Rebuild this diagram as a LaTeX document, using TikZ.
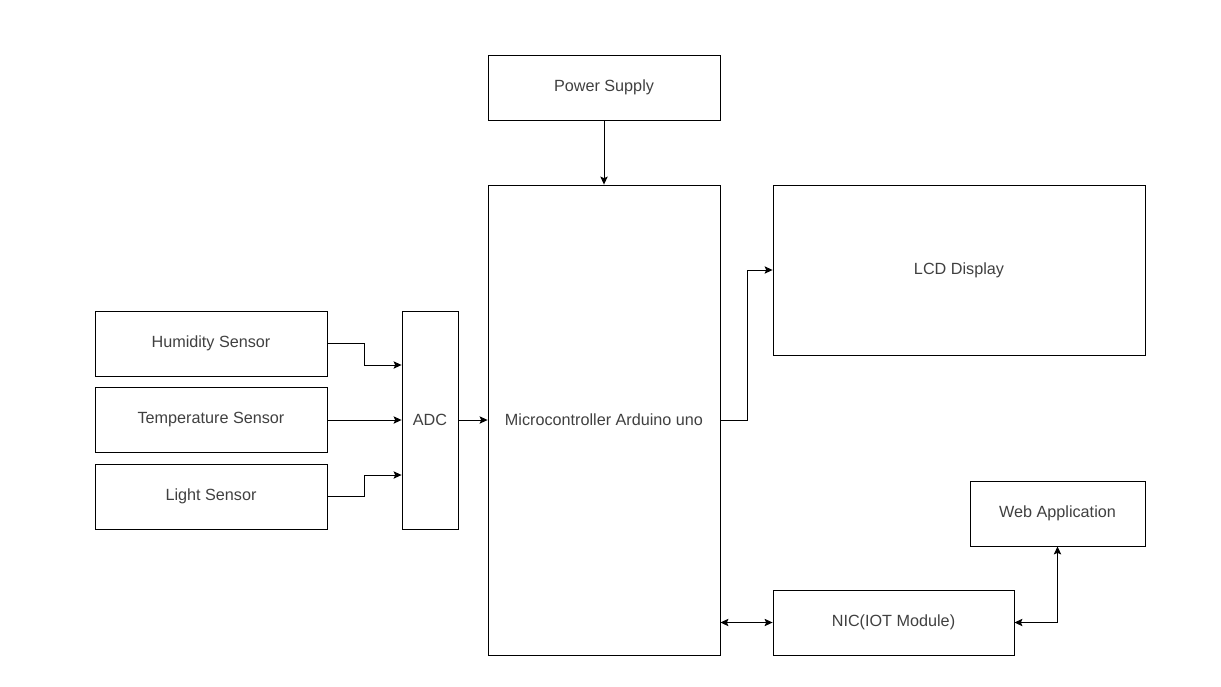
\documentclass[tikz,border=0pt]{standalone}
\usepackage{fontspec}
\setmainfont{Liberation Sans}
\usepackage{tikz}
\usetikzlibrary{positioning, arrows.meta}

\begin{document}
\begin{tikzpicture}[x = 0.75pt, y = -0.75pt, >={Stealth[length = 6pt, width = 5.5pt, inset = 1.2pt]},
                    box/.style = {draw, line width = 0.65pt, text = black!75, inner sep = 0pt,
                                  font = \fontsize{12.15}{14}\selectfont},
                    wire/.style = {line width = 0.65pt}]
                    \useasboundingbox (0,0) rectangle (1221,686);
                    \node[box, minimum width = 174pt, minimum height = 48.75pt] at (604,87.5) (power) {Power Supply};
                    \node[box, minimum width = 174pt, minimum height = 352.5pt] at (604,420) (micro) {Microcontroller Arduino uno};
                    \node[box, minimum width = 279pt, minimum height = 127.5pt] at (959,270) (lcd) {LCD Display};
                    \node[box, minimum width = 42pt, minimum height = 163.5pt] at (430,420) (adc) {ADC};
                    \node[box, minimum width = 174pt, minimum height = 48.75pt] at (211,343.5) (hum) {Humidity Sensor};
                    \node[box, minimum width = 174pt, minimum height = 48.75pt] at (211,420) (temp) {Temperature Sensor};
                    \node[box, minimum width = 174pt, minimum height = 48.75pt] at (211,496.5) (light) {Light Sensor};
                    \node[box, minimum width = 131.25pt, minimum height = 48.75pt] at (1057.5,513.5) (web) {Web Application};
                    \node[box, minimum width = 180.75pt, minimum height = 48.75pt] at (893.5,622.5) (nic) {NIC(IOT Module)};

                    \draw [wire, ->] (power) -- (micro);
                    \draw [wire, ->] (hum.east) -- ++(37,0) |- ([yshift = 41.25pt]adc.west);
                    \draw [wire, ->] (temp) -- (adc);
                    \draw [wire, ->] (light.east) -- ++(37,0) |- ([yshift = -41.25pt]adc.west);
                    \draw [wire, ->] (adc) -- (micro);
                    \draw [wire, ->] (micro.east) -- ++(27,0) |- (lcd.west);
                    \draw [wire, <->] (nic.west -| micro.east) -- (nic.west);
                    \draw [wire, <->] (nic.east) -| (web.south);
                \end{tikzpicture}
\end{document}
